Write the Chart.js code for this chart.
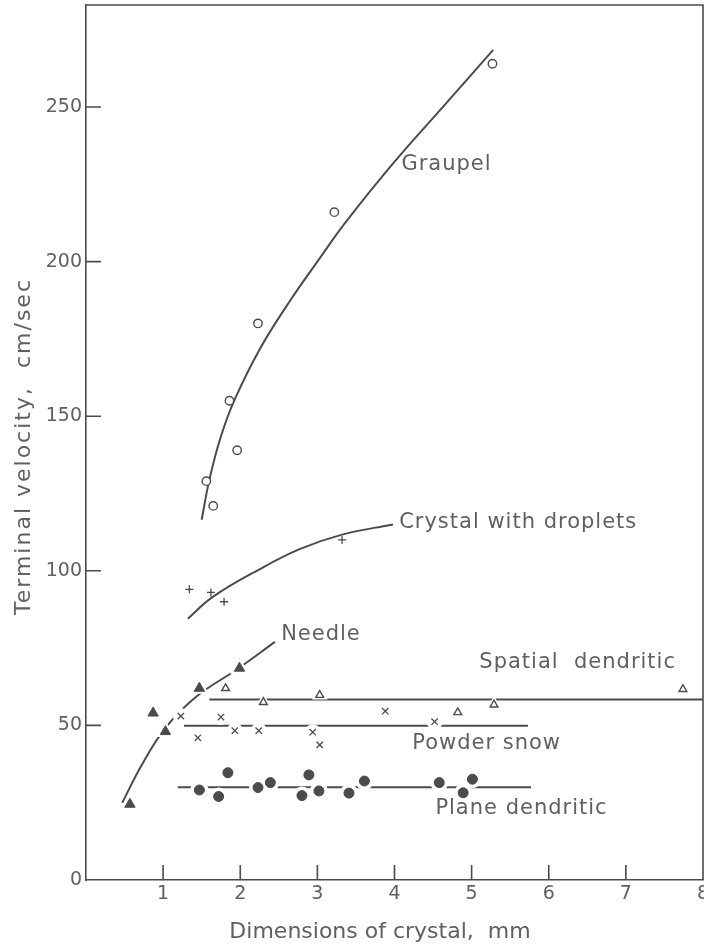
<!DOCTYPE html>
<html>
<head>
<meta charset="utf-8">
<script src="https://cdn.jsdelivr.net/npm/chart.js@4.4.1/dist/chart.umd.min.js"></script>
<style>
  html, body { margin: 0; padding: 0; background: #fff; }
  #wrap { width: 704px; height: 947px; }
</style>
</head>
<body>
<div id="wrap"><canvas id="c" width="704" height="947"></canvas></div>
<script>
// Terminal velocity of snow crystals against crystal dimension

const xTicks = [0, 1, 2, 3, 4, 5, 6, 7, 8];
const yTicks = [0, 50, 100, 150, 200, 250];

// Graupel (open circles) and its fitted curve
const graupelSize = [1.56, 1.65, 1.86, 1.96, 2.23, 3.22, 5.27];
const graupelVel  = [129, 121, 155, 139, 180, 216, 264];
const graupelCurveSize = [1.50, 1.60, 1.75, 1.93, 2.26, 2.65, 3.00, 3.36, 3.99, 4.68, 5.28];
const graupelCurveVel  = [116.5, 129.5, 143.5, 155.5, 172, 187.5, 200, 212.5, 232, 251.5, 268.5];

// Crystal with droplets (plus signs)
const dropletSize = [1.34, 1.62, 1.79, 3.32];
const dropletVel  = [94, 93, 90, 110];
const dropletCurveSize = [1.32, 1.64, 2.25, 2.77, 3.32, 3.98];
const dropletCurveVel  = [84.5, 91.5, 100.5, 107, 111.7, 115];

// Needle (filled triangles)
const needleSize = [0.57, 0.87, 1.03, 1.47, 1.99];
const needleVel  = [24.5, 54, 48, 62, 68.5];
const needleCurveSize = [0.47, 0.73, 1.04, 1.44, 1.95, 2.45];
const needleCurveVel  = [25, 37.5, 49.5, 59.5, 68, 77];

// Spatial dendritic (open triangles)
const spatialSize = [1.81, 2.30, 3.03, 4.82, 5.29, 7.74];
const spatialVel  = [62, 57.5, 59.8, 54.2, 56.7, 61.7];
const spatialLineSize = [1.6, 8];
const spatialLineVel  = [58.4, 58.4];

// Powder snow (crosses)
const powderSize = [1.23, 1.45, 1.75, 1.93, 2.24, 2.94, 3.03, 3.88, 4.52];
const powderVel  = [53, 46, 52.7, 48.3, 48.3, 47.8, 43.7, 54.6, 51.2];
const powderLineSize = [1.27, 5.73];
const powderLineVel  = [49.9, 49.9];

// Plane dendritic (filled circles)
const planeSize = [1.47, 1.72, 1.84, 2.23, 2.39, 2.80, 2.89, 3.02, 3.41, 3.61, 4.58, 4.89, 5.01];
const planeVel  = [29.1, 27.0, 34.7, 29.9, 31.5, 27.3, 34.0, 28.8, 28.1, 32.0, 31.5, 28.2, 32.6];
const planeLineSize = [1.19, 5.77];
const planeLineVel  = [30, 30];

// Curve labels and their anchor points (left edge, vertical middle) in data units
const labelTexts = ['Graupel', 'Crystal with droplets', 'Needle', 'Spatial  dendritic', 'Powder snow', 'Plane dendritic'];
const labelSize  = [4.09, 4.06, 2.53, 5.10, 4.23, 4.53];
const labelVel   = [231.5, 115.6, 79.3, 70.3, 44.0, 23.0];

const xTitle = 'Dimensions of crystal,  mm';
const yTitle = 'Terminal velocity,  cm/sec';

const pts = (xs, ys) => xs.map((x, i) => ({ x, y: ys[i] }));

const INK = '#4b4b4b';
const TEXT = '#606060';
const FONT = "'DejaVu Sans', sans-serif";

function curve(xs, ys) {
  return {
    data: pts(xs, ys), showLine: true, pointRadius: 0, borderColor: INK,
    borderWidth: 2, tension: 0.4, order: 3
  };
}
function straight(xs, ys) {
  return { data: pts(xs, ys), showLine: true, pointRadius: 0, borderColor: INK, borderWidth: 2, order: 3 };
}
// white halo behind a marker so the drawn lines break around it
function halo(xs, ys, style, r) {
  return {
    data: pts(xs, ys), showLine: false, pointStyle: style, pointRadius: r,
    backgroundColor: '#fff', borderColor: '#fff', borderWidth: 2, order: 2
  };
}
function markers(xs, ys, style, r, filled, bw) {
  return {
    data: pts(xs, ys), showLine: false, pointStyle: style, pointRadius: r,
    backgroundColor: filled ? INK : '#fff', borderColor: INK, borderWidth: bw, order: 1
  };
}

const frameAndTicks = {
  id: 'frameAndTicks',
  beforeDatasetsDraw(chart) {
    const { ctx, chartArea: a, scales: { x, y } } = chart;
    ctx.save();
    ctx.strokeStyle = INK;
    ctx.lineWidth = 1.6;
    ctx.beginPath();
    ctx.moveTo(a.left, a.top); ctx.lineTo(a.right, a.top); ctx.lineTo(a.right, a.bottom);
    xTicks.forEach(v => {
      if (v > 0 && v < 8) {
        const px = x.getPixelForValue(v);
        ctx.moveTo(px, a.bottom); ctx.lineTo(px, a.bottom - 15);
      }
    });
    yTicks.forEach(v => {
      if (v > 0) {
        const py = y.getPixelForValue(v);
        ctx.moveTo(a.left, py); ctx.lineTo(a.left + 15, py);
      }
    });
    ctx.stroke();

    // axis titles
    ctx.fillStyle = TEXT;
    ctx.font = '22px ' + FONT;
    ctx.textAlign = 'center';
    ctx.textBaseline = 'middle';
    ctx.fillText(xTitle, 380, 932);
    ctx.letterSpacing = '2px';
    ctx.translate(24, (a.top + a.bottom) / 2 + 4);
    ctx.rotate(-Math.PI / 2);
    ctx.fillText(yTitle, 0, 0);
    ctx.restore();
  },
  afterDatasetsDraw(chart) {
    const { ctx, scales: { x, y } } = chart;
    ctx.save();
    ctx.fillStyle = TEXT;
    ctx.font = '21px ' + FONT;
    ctx.letterSpacing = '1px';
    ctx.textAlign = 'left';
    ctx.textBaseline = 'middle';
    labelTexts.forEach((t, i) => {
      ctx.fillText(t, x.getPixelForValue(labelSize[i]), y.getPixelForValue(labelVel[i]));
    });
    ctx.restore();
  }
};

new Chart(document.getElementById('c'), {
  type: 'scatter',
  data: {
    datasets: [
      curve(graupelCurveSize, graupelCurveVel),
      curve(dropletCurveSize, dropletCurveVel),
      curve(needleCurveSize, needleCurveVel),
      straight(spatialLineSize, spatialLineVel),
      straight(powderLineSize, powderLineVel),
      straight(planeLineSize, planeLineVel),

      halo(needleSize, needleVel, 'triangle', 9),
      halo(spatialSize, spatialVel, 'triangle', 7),
      halo(powderSize, powderVel, 'circle', 7),
      halo(planeSize, planeVel, 'circle', 8),

      markers(graupelSize, graupelVel, 'circle', 4.2, false, 1.4),
      markers(dropletSize, dropletVel, 'cross', 4, false, 1.3),
      markers(needleSize, needleVel, 'triangle', 6, true, 1),
      markers(spatialSize, spatialVel, 'triangle', 4.5, false, 1.4),
      markers(powderSize, powderVel, 'crossRot', 4.5, false, 1.3),
      markers(planeSize, planeVel, 'circle', 5, true, 1)
    ]
  },
  options: {
    responsive: false,
    devicePixelRatio: 1,
    animation: false,
    events: [],
    layout: { autoPadding: false, padding: { top: 5, right: 1, left: 0, bottom: 0 } },
    plugins: { legend: { display: false }, tooltip: { enabled: false } },
    scales: {
      x: {
        type: 'linear', min: 0, max: 8,
        afterBuildTicks: s => { s.ticks = xTicks.map(v => ({ value: v })); },
        afterFit: s => { s.height = 67; s.paddingLeft = 0; s.paddingRight = 0; },
        grid: { drawOnChartArea: false, drawTicks: false },
        border: { display: true, color: INK, width: 1.6 },
        ticks: {
          padding: 3, color: TEXT, maxRotation: 0, autoSkip: false,
          font: { family: FONT, size: 19 },
          callback: v => (v === 0 ? '' : String(v))
        }
      },
      y: {
        type: 'linear', min: 0, max: 283,
        afterBuildTicks: s => { s.ticks = yTicks.map(v => ({ value: v })); },
        afterFit: s => { s.width = 86; s.paddingTop = 0; s.paddingBottom = 0; },
        grid: { drawOnChartArea: false, drawTicks: false },
        border: { display: true, color: INK, width: 1.6 },
        ticks: {
          padding: 4, color: TEXT, autoSkip: false,
          font: { family: FONT, size: 19 },
          callback: v => String(v)
        }
      }
    }
  },
  plugins: [frameAndTicks]
});
</script>
</body>
</html>
